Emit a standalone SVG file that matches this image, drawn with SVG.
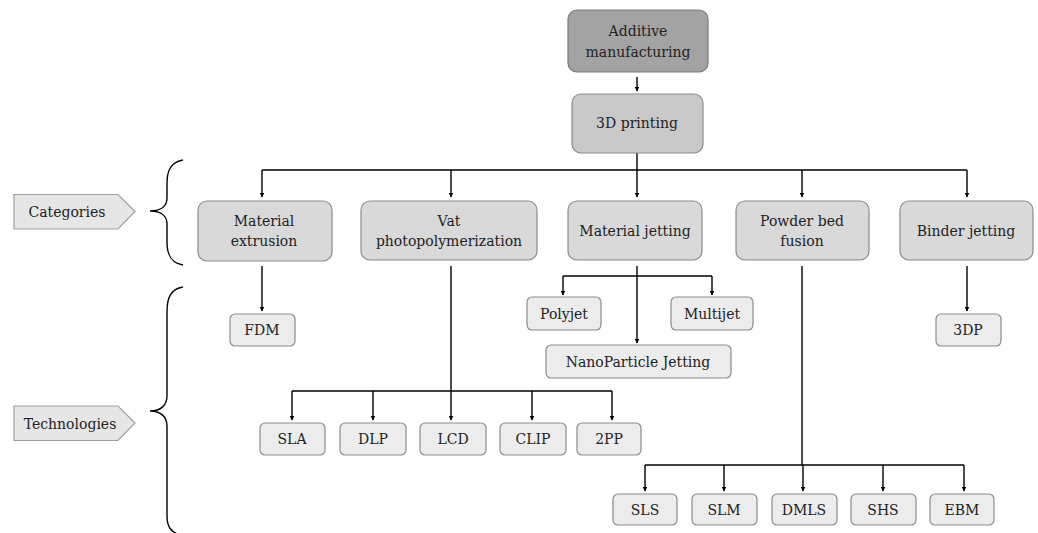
<svg xmlns="http://www.w3.org/2000/svg" width="1038" height="533" viewBox="0 0 1038 533">
<style>
text{font-family:"DejaVu Serif","Liberation Serif",serif;font-size:14px;fill:#222;text-anchor:middle;dominant-baseline:central}
.top{fill:#a3a3a3;stroke:#7a7a7a;stroke-width:1.2}
.mid{fill:#c9c9c9;stroke:#8c8c8c;stroke-width:1.2}
.cat{fill:#d9d9d9;stroke:#8c8c8c;stroke-width:1.2}
.tech{fill:#ececec;stroke:#8c8c8c;stroke-width:1.2}
.tag{fill:#e6e6e6;stroke:#a0a0a0;stroke-width:1.2}
.ln{fill:none;stroke:#000;stroke-width:1.4}
.ar{fill:none;stroke:#000;stroke-width:1.4;marker-end:url(#ah)}
.br{fill:none;stroke:#000;stroke-width:1.4}
</style>
<defs>
<marker id="ah" viewBox="0 0 10 10" refX="9" refY="5" markerWidth="5" markerHeight="5" orient="auto" markerUnits="userSpaceOnUse">
<path d="M0,0 L10,5 L0,10 z" fill="#000"/>
</marker>
</defs>
<g id="connectors">
<line class="ar" x1="637" y1="77" x2="637" y2="91"/>
<path class="ln" d="M637,153 V170 M262,170 H967"/>
<line class="ar" x1="262" y1="170" x2="262" y2="197"/>
<line class="ar" x1="451" y1="170" x2="451" y2="197"/>
<line class="ar" x1="637" y1="170" x2="637" y2="197"/>
<line class="ar" x1="802" y1="170" x2="802" y2="197"/>
<line class="ar" x1="967" y1="170" x2="967" y2="197"/>
<line class="ar" x1="262" y1="266" x2="262" y2="311"/>
<line class="ar" x1="967" y1="266" x2="967" y2="311"/>
<line class="ar" x1="637" y1="266" x2="637" y2="343"/>
<path class="ln" d="M563,276 H712"/>
<line class="ar" x1="563" y1="276" x2="563" y2="295"/>
<line class="ar" x1="712" y1="276" x2="712" y2="295"/>
<path class="ln" d="M451,266 V391 M292,391 H612"/>
<line class="ar" x1="292" y1="391" x2="292" y2="420"/>
<line class="ar" x1="373" y1="391" x2="373" y2="420"/>
<line class="ar" x1="451" y1="391" x2="451" y2="420"/>
<line class="ar" x1="532" y1="391" x2="532" y2="420"/>
<line class="ar" x1="612" y1="391" x2="612" y2="420"/>
<path class="ln" d="M802,266 V465 M645,465 H964"/>
<line class="ar" x1="645" y1="465" x2="645" y2="491"/>
<line class="ar" x1="724" y1="465" x2="724" y2="491"/>
<line class="ar" x1="803" y1="465" x2="803" y2="491"/>
<line class="ar" x1="883" y1="465" x2="883" y2="491"/>
<line class="ar" x1="964" y1="465" x2="964" y2="491"/>
</g>
<g id="n-additive"><rect class="top" x="568" y="10" width="140" height="62" rx="9"/><text x="638" y="31">Additive</text><text x="638" y="52">manufacturing</text></g>
<g id="n-3dprinting"><rect class="mid" x="572" y="94" width="131" height="59" rx="9"/><text x="637" y="123">3D printing</text></g>
<g id="n-matext"><rect class="cat" x="198" y="201" width="134" height="60" rx="9"/><text x="264" y="221">Material</text><text x="264" y="241">extrusion</text></g>
<g id="n-vat"><rect class="cat" x="361" y="201" width="176" height="59" rx="9"/><text x="449" y="221">Vat</text><text x="449" y="241">photopolymerization</text></g>
<g id="n-matjet"><rect class="cat" x="568" y="201" width="134" height="59" rx="9"/><text x="635" y="231">Material jetting</text></g>
<g id="n-powder"><rect class="cat" x="736" y="201" width="133" height="59" rx="9"/><text x="802" y="221">Powder bed</text><text x="802" y="241">fusion</text></g>
<g id="n-binder"><rect class="cat" x="900" y="201" width="133" height="59" rx="9"/><text x="966" y="231">Binder jetting</text></g>
<g id="n-fdm"><rect class="tech" x="230" y="314" width="65" height="32" rx="5"/><text x="262" y="330">FDM</text></g>
<g id="n-polyjet"><rect class="tech" x="527" y="297" width="74" height="33" rx="5"/><text x="564" y="314">Polyjet</text></g>
<g id="n-multijet"><rect class="tech" x="671" y="297" width="82" height="33" rx="5"/><text x="712" y="314">Multijet</text></g>
<g id="n-nano"><rect class="tech" x="546" y="345" width="185" height="33" rx="5"/><text x="638" y="362">NanoParticle Jetting</text></g>
<g id="n-3dp"><rect class="tech" x="936" y="314" width="65" height="32" rx="5"/><text x="968" y="330">3DP</text></g>
<g id="n-sla"><rect class="tech" x="260" y="423" width="65" height="32" rx="5"/><text x="292" y="439">SLA</text></g>
<g id="n-dlp"><rect class="tech" x="340" y="423" width="66" height="32" rx="5"/><text x="373" y="439">DLP</text></g>
<g id="n-lcd"><rect class="tech" x="420" y="423" width="66" height="32" rx="5"/><text x="453" y="439">LCD</text></g>
<g id="n-clip"><rect class="tech" x="500" y="423" width="66" height="32" rx="5"/><text x="533" y="439">CLIP</text></g>
<g id="n-2pp"><rect class="tech" x="577" y="423" width="64" height="32" rx="5"/><text x="609" y="439">2PP</text></g>
<g id="n-sls"><rect class="tech" x="613" y="494" width="64" height="31" rx="5"/><text x="645" y="510">SLS</text></g>
<g id="n-slm"><rect class="tech" x="692" y="494" width="65" height="31" rx="5"/><text x="724" y="510">SLM</text></g>
<g id="n-dmls"><rect class="tech" x="772" y="494" width="65" height="31" rx="5"/><text x="804" y="510">DMLS</text></g>
<g id="n-shs"><rect class="tech" x="851" y="494" width="65" height="31" rx="5"/><text x="883" y="510">SHS</text></g>
<g id="n-ebm"><rect class="tech" x="930" y="494" width="64" height="31" rx="5"/><text x="962" y="510">EBM</text></g>
<g id="n-categories"><path class="tag" d="M14,194.5 H118 L135,211.5 L118,229 H14 Z"/><text x="67" y="212">Categories</text><path class="br" d="M183,160 C171,162 167,170 167,183 L167,198 C167,206 161,211 150,211 C161,211 167,216 167,224 L167,242 C167,255 171,263 183,265"/></g>
<g id="n-technologies"><path class="tag" d="M14,406 H118 L135,423 L118,440.5 H14 Z"/><text x="70" y="423.5">Technologies</text><path class="br" d="M183,287 C171,289 167,297 167,312 L167,396 C167,405 161,411 150,411 C161,411 167,417 167,426 L167,516 C167,527 171,532 180,535"/></g>
</svg>
